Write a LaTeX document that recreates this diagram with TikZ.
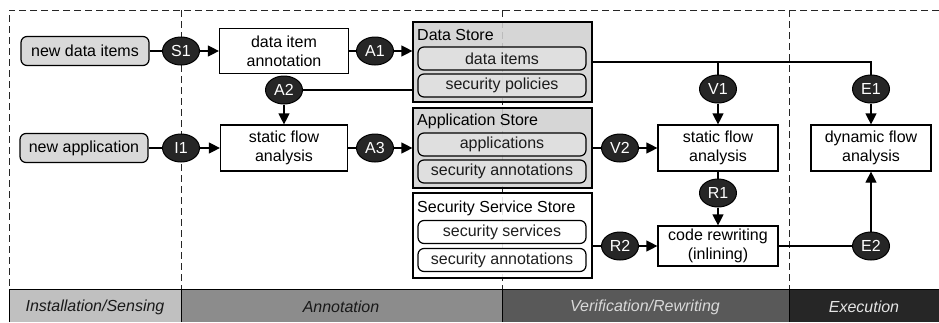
\documentclass[tikz,border=0pt]{standalone}
\usepackage{fontspec}
\setmainfont{Liberation Sans}
\usetikzlibrary{shapes.geometric,arrows.meta}
\definecolor{itemgray}{RGB}{217,217,217}
\definecolor{storegray}{RGB}{208,208,208}
\definecolor{innergray}{RGB}{224,224,224}
\definecolor{markfill}{RGB}{38,38,38}
\definecolor{bandA}{RGB}{192,192,192}
\definecolor{bandB}{RGB}{140,140,140}
\definecolor{bandC}{RGB}{89,89,89}
\definecolor{bandD}{RGB}{38,38,38}
\newcommand\dgfont{\fontsize{16}{19}\selectfont}
\begin{document}
\begin{tikzpicture}[x=1pt,y=-1pt,
  every node/.style={font=\dgfont, inner sep=0pt},
  conn/.style={line width=1.2pt, draw=black},
  arr/.style={conn, -{Triangle[length=11pt,width=11pt]}},
  framedash/.style={line width=0.9pt, dash pattern=on 7pt off 4pt, draw=black!85},
  procbox/.style={draw, line width=1.2pt, fill=white, align=center, minimum width=127pt, minimum height=46pt},
  srcbox/.style={draw, line width=1.2pt, fill=itemgray, rounded corners=6pt, minimum width=128pt, minimum height=29pt},
  storebox/.style={draw, line width=1.2pt, fill opacity=0.88, minimum width=179pt},
  inbox/.style={draw, line width=1.2pt, fill opacity=0.88, rounded corners=6pt, minimum width=168pt, minimum height=23pt},
  stepmark/.style={ellipse, draw=black, line width=1pt, fill=markfill, text=white, minimum width=37pt, minimum height=28pt},
  storetitle/.style={anchor=west},
  bandtext/.style={font=\dgfont\itshape}
]
\useasboundingbox (0,0) rectangle (939,322);

% frame
\draw[framedash] (939,10) -- (9,10) -- (9,289);
\draw[framedash] (181,10) -- (181,289);
\draw[framedash] (502,10) -- (502,289);
\draw[framedash] (789,10) -- (789,289);

% bottom band
\fill[bandA] (9,289) rectangle (181,322);
\fill[bandB] (181,289) rectangle (502,322);
\fill[bandC] (502,289) rectangle (789,322);
\fill[bandD] (789,289) rectangle (939,322);
\draw[line width=1pt] (9,322) -- (9,289) -- (939,289);
\draw[line width=1pt] (181,289) -- (181,322);
\draw[line width=1pt] (502,289) -- (502,322);
\draw[line width=1pt] (789,289) -- (789,322);
\node[bandtext, text=black!90] (bt1) at (95,307) {Installation/Sensing};
\node[bandtext, text=black!90] (bt2) at (341,307) {Annotation};
\node[bandtext, text=black!15] (bt3) at (645,307) {Verification/Rewriting};
\node[bandtext, text=black!10] (bt4) at (864,307) {Execution};

% sources
\node[srcbox] (ndi) at (85,51) {new data items};
\node[srcbox] (na) at (84,148) {new application};

% process boxes
\node[procbox, minimum width=129pt, minimum height=45pt] (dia) at (284,51) {data item\\annotation};
\node[procbox] (sfa1) at (284,148) {static flow\\analysis};
\node[procbox, minimum width=120pt] (sfa2) at (718,148) {static flow\\analysis};
\node[procbox, minimum width=120pt] (dfa) at (871,148) {dynamic flow\\analysis};
\node[procbox, minimum width=120pt, minimum height=40pt] (crw) at (718,246) {code rewriting\\(inlining)};

% stores
\node[storebox, fill=storegray, minimum height=80pt] (DS) at (502.5,62) {};
\node[storetitle] (dst) at (417,35) {Data Store};
\node[inbox, fill=innergray] (di) at (502,58.5) {data items};
\node[inbox, fill=innergray] (sp) at (502,85.5) {security policies};

\node[storebox, fill=storegray, minimum height=80pt] (AS) at (502.5,148) {};
\node[storetitle] (ast) at (417,121.5) {Application Store};
\node[inbox, fill=innergray] (apps) at (502,144.5) {applications};
\node[inbox, fill=innergray] (sa1) at (502,171.5) {security annotations};

\node[storebox, fill=white, minimum height=85pt] (SSS) at (502.5,235.5) {};
\node[storetitle] (ssst) at (417,208) {Security Service Store};
\node[inbox, fill=white] (ss) at (502,232) {security services};
\node[inbox, fill=white] (sa2) at (502,260) {security annotations};

% marks
\node[stepmark] (S1) at (181,51) {S1};
\node[stepmark] (I1) at (181,148) {I1};
\node[stepmark] (A1) at (375,51) {A1};
\node[stepmark] (A2) at (284,90) {A2};
\node[stepmark] (A3) at (375,148) {A3};
\node[stepmark] (V1) at (718,89) {V1};
\node[stepmark] (V2) at (620,148) {V2};
\node[stepmark] (E1) at (871,89) {E1};
\node[stepmark] (R1) at (718,193) {R1};
\node[stepmark] (R2) at (620,246) {R2};
\node[stepmark] (E2) at (871,246) {E2};

% connectors
\draw[conn] (ndi) -- (S1);
\draw[arr] (S1) -- (dia);
\draw[conn] (dia) -- (A1);
\draw[arr] (A1) -- (DS.west |- A1);
\draw[conn] (DS.west |- A2) -- (A2);
\draw[arr] (A2) -- (sfa1);
\draw[conn] (na) -- (I1);
\draw[arr] (I1) -- (sfa1);
\draw[conn] (sfa1) -- (A3);
\draw[arr] (A3) -- (AS);
\draw[conn] (AS) -- (V2);
\draw[arr] (V2) -- (sfa2);
\draw[conn] (DS.east) -- (DS.east -| E1) -- (E1);
\draw[conn] (V1 |- DS.east) -- (V1);
\draw[arr] (V1) -- (sfa2);
\draw[arr] (E1) -- (dfa);
\draw[conn] (sfa2) -- (R1);
\draw[arr] (R1) -- (crw);
\draw[conn] (SSS.east |- R2) -- (R2);
\draw[arr] (R2) -- (crw);
\draw[conn] (crw) -- (E2);
\draw[arr] (E2) -- (dfa);
\end{tikzpicture}
\end{document}
